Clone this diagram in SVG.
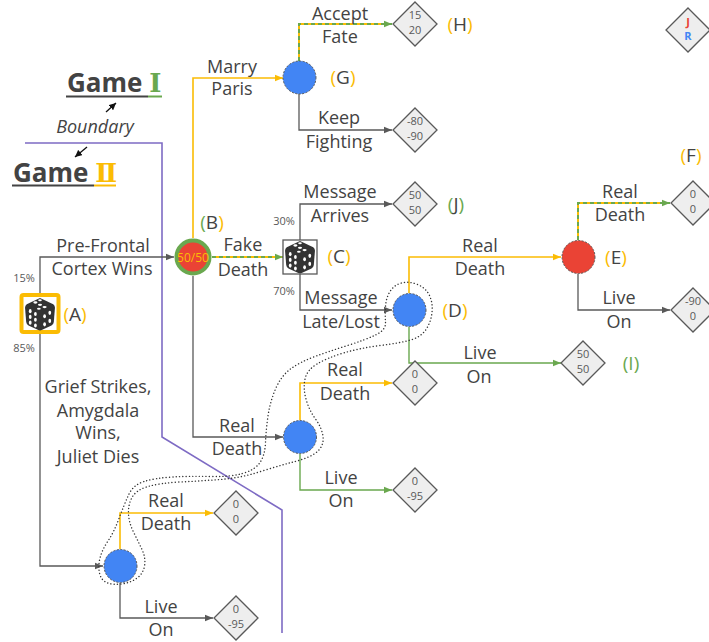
<svg xmlns="http://www.w3.org/2000/svg" width="709" height="642" viewBox="0 0 709 642">
<style>
.t{font-family:"Open Sans","Liberation Sans",sans-serif;font-size:18px;fill:#434343;text-anchor:middle}
.lb{font-family:"Open Sans","Liberation Sans",sans-serif;font-size:19px;fill:#434343;text-anchor:middle}
.pc{font-family:"Open Sans","Liberation Sans",sans-serif;font-size:11px;fill:#595959;text-anchor:middle}
.dt{font-family:"Open Sans","Liberation Sans",sans-serif;font-size:11px;fill:#595959;text-anchor:middle}
.g{stroke:#595959;stroke-width:1.3;fill:none}
.y{stroke:#fbbc04;stroke-width:1.6;fill:none}
.gr{stroke:#6aa84f;stroke-width:1.4;fill:none}
.yb{stroke:#fbbc04;stroke-width:2;fill:none}
.gd{stroke:#6aa84f;stroke-width:2;fill:none;stroke-dasharray:4 3}
.dia{fill:#eeeeee;stroke:#595959;stroke-width:1.3}
.nb{fill:#4285f4;stroke:#595959;stroke-width:1;stroke-dasharray:2 1.5}
.nr{fill:#ea4335;stroke:#595959;stroke-width:1;stroke-dasharray:2 1.5}
.Y{fill:#fbbc04}
.G{fill:#6aa84f}
</style>
<defs>
<marker id="ag" viewBox="0 0 10 10" refX="10" refY="5" markerWidth="8" markerHeight="8" markerUnits="userSpaceOnUse" orient="auto"><path d="M0,1 L10,5 L0,9 z" fill="#595959"/></marker>
<marker id="ay" viewBox="0 0 10 10" refX="10" refY="5" markerWidth="8" markerHeight="8" markerUnits="userSpaceOnUse" orient="auto"><path d="M0,1 L10,5 L0,9 z" fill="#fbbc04"/></marker>
<marker id="agr" viewBox="0 0 10 10" refX="10" refY="5" markerWidth="8" markerHeight="8" markerUnits="userSpaceOnUse" orient="auto"><path d="M0,1 L10,5 L0,9 z" fill="#6aa84f"/></marker>
<marker id="ak" viewBox="0 0 10 10" refX="10" refY="5" markerWidth="7" markerHeight="7" markerUnits="userSpaceOnUse" orient="auto"><path d="M0,0 L10,5 L0,10 z" fill="#111"/></marker>
<g id="dice">
<g transform="scale(1.15)">
<path d="M0,-14 L11.5,-8.5 Q13,-7.5 13,-5.5 L12,7 Q11.8,9 10,10 L1.5,14 Q0,14.7 -1.5,14 L-10,10 Q-11.8,9 -12,7 L-13,-5.5 Q-13,-7.5 -11.5,-8.5 Z" fill="#333"/>
<g fill="#fff">
<ellipse cx="-4" cy="-10" rx="1.8" ry="1"/><ellipse cx="0" cy="-8" rx="1.8" ry="1"/><ellipse cx="4" cy="-6" rx="1.8" ry="1"/><ellipse cx="0" cy="-12" rx="1.6" ry="0.9"/><ellipse cx="-1" cy="-4.5" rx="1.6" ry="0.9"/>
<ellipse cx="-8.5" cy="-2.5" rx="1.2" ry="1.8"/><ellipse cx="-4" cy="0" rx="1.2" ry="1.8"/><ellipse cx="-8.5" cy="2.5" rx="1.2" ry="1.8"/><ellipse cx="-4" cy="5" rx="1.2" ry="1.8"/><ellipse cx="-8.5" cy="7.5" rx="1.2" ry="1.8"/><ellipse cx="-4" cy="10" rx="1.2" ry="1.8"/>
<ellipse cx="4" cy="2" rx="1.2" ry="1.8"/><ellipse cx="8.5" cy="-1" rx="1.2" ry="1.8"/><ellipse cx="4" cy="9" rx="1.2" ry="1.8"/><ellipse cx="8.5" cy="6" rx="1.2" ry="1.8"/>
</g>
</g>
</g>
</defs>
<rect width="709" height="642" fill="#fff"/>

<g id="boundary">
<path d="M25,143 H162 V437 L282,510 V633" fill="none" stroke="#7e6bc4" stroke-width="1.6"/>
<text x="95" y="133" class="t" font-style="italic">Boundary</text>
<line x1="106" y1="112" x2="116" y2="103" stroke="#111" stroke-width="1.3" marker-end="url(#ak)"/>
<line x1="87" y1="147" x2="75" y2="157" stroke="#111" stroke-width="1.3" marker-end="url(#ak)"/>
</g>

<g id="titles">
<text x="67" y="92" font-family="'Open Sans','Liberation Sans',sans-serif" font-size="26" font-weight="bold" fill="#434343">Game <tspan fill="#6aa84f" font-family="'DejaVu Serif',serif">Ⅰ</tspan></text>
<line x1="66" y1="96.5" x2="148" y2="96.5" stroke="#434343" stroke-width="2"/>
<line x1="148" y1="96.5" x2="162" y2="96.5" stroke="#6aa84f" stroke-width="2"/>
<text x="13" y="182" font-family="'Open Sans','Liberation Sans',sans-serif" font-size="26" font-weight="bold" fill="#434343">Game <tspan fill="#fbbc04" font-family="'DejaVu Serif',serif">Ⅱ</tspan></text>
<line x1="12" y1="185.5" x2="94" y2="185.5" stroke="#434343" stroke-width="2"/>
<line x1="94" y1="185.5" x2="116" y2="185.5" stroke="#fbbc04" stroke-width="2"/>
</g>

<g id="connectors">
<path class="g" d="M40,294 V257 H174" marker-end="url(#ag)"/>
<path class="g" d="M40,333 V566 H103" marker-end="url(#ag)"/>
<path class="y" d="M193,238 V78 H283" marker-end="url(#ay)"/>
<path class="yb" d="M299,61 V24 H392"/>
<path class="gd" d="M299,61 V24 H392" marker-end="url(#agr)"/>
<path class="g" d="M299,94 V130 H392" marker-end="url(#ag)"/>
<path class="yb" d="M212,257 H283"/>
<path class="gd" d="M212,257 H283" marker-end="url(#agr)"/>
<path class="g" d="M300,240 V204 H392" marker-end="url(#ag)"/>
<path class="g" d="M300,274 V310 H392" marker-end="url(#ag)"/>
<path class="g" d="M193,276 V437 H283" marker-end="url(#ag)"/>
<path class="y" d="M409,293 V257 H561" marker-end="url(#ay)"/>
<path class="yb" d="M578,240 V203 H670"/>
<path class="gd" d="M578,240 V203 H670" marker-end="url(#agr)"/>
<path class="g" d="M578,274 V310 H670" marker-end="url(#ag)"/>
<path class="gr" d="M409,327 V363 H561" marker-end="url(#agr)"/>
<path class="y" d="M300,420 V383 H392" marker-end="url(#ay)"/>
<path class="gr" d="M300,454 V490 H392" marker-end="url(#agr)"/>
<path class="y" d="M120,549 V513 H213" marker-end="url(#ay)"/>
<path class="g" d="M120,583 V618 H213" marker-end="url(#ag)"/>
<path d="M385.5,322.5 Q386,330 375.5,335 Q365,340 347.5,345.5 Q330,351 315,356.5 Q300,362 290.5,369 Q281,376 275.5,389 Q270,402 268,416 Q266,430 265.5,442.5 Q265,455 260,462.5 Q255,470 242.5,473.5 Q230,477 210,476.5 Q190,476 172.5,477 Q155,478 144,481.5 Q133,485 128.5,495 Q124,505 119,518.5 Q114,532 108,541 Q102,550 100,558 Q98,566 99.5,573 Q101,580 106.5,582.5 Q112,585 121,584 Q130,583 136.5,578.5 Q143,574 144.5,566 Q146,558 142,549.5 Q138,541 133.5,532 Q129,523 128.5,514 Q128,505 132,497.5 Q136,490 148,486.5 Q160,483 180,482 Q200,481 220,479.5 Q240,478 259,472 Q278,466 295,461.5 Q312,457 318,451 Q324,445 323,436.5 Q322,428 315.5,419 Q309,410 306,399 Q303,388 305,379 Q307,370 317,364 Q327,358 343.5,353 Q360,348 380,345.5 Q400,343 410.5,340 Q421,337 426,329.5 Q431,322 432,312.5 Q433,303 429.5,295.5 Q426,288 417.5,284.5 Q409,281 401.5,283 Q394,285 390,291.5 Q386,298 385.5,306.5 Q385,315 385.5,322.5 Z" fill="none" stroke="#333" stroke-width="1.4" stroke-dasharray="0.1 3.2" stroke-linecap="round"/>
</g>

<g id="edge-labels">
<text class="t" x="232" y="73">Marry</text><text class="t" x="232" y="95">Paris</text>
<text class="t" x="340" y="20">Accept</text><text class="t" x="340" y="43">Fate</text>
<text class="t" x="339" y="124">Keep</text><text class="t" x="339" y="148">Fighting</text>
<text class="t" x="340" y="198">Message</text><text class="t" x="340" y="222">Arrives</text>
<text class="t" x="341" y="304">Message</text><text class="t" x="341" y="328">Late/Lost</text>
<text class="t" x="103" y="252">Pre-Frontal</text><text class="t" x="102" y="275">Cortex Wins</text>
<text class="t" x="243" y="251">Fake</text><text class="t" x="243" y="276">Death</text>
<text class="t" x="480" y="252">Real</text><text class="t" x="480" y="275">Death</text>
<text class="t" x="620" y="198">Real</text><text class="t" x="620" y="221">Death</text>
<text class="t" x="619" y="304">Live</text><text class="t" x="619" y="328">On</text>
<text class="t" x="480" y="359">Live</text><text class="t" x="479" y="383">On</text>
<text class="t" x="345" y="376">Real</text><text class="t" x="345" y="400">Death</text>
<text class="t" x="237" y="432">Real</text><text class="t" x="237" y="455">Death</text>
<text class="t" x="341" y="484">Live</text><text class="t" x="341" y="507">On</text>
<text class="t" x="98" y="393">Grief Strikes,</text><text class="t" x="98" y="417">Amygdala</text><text class="t" x="98" y="439">Wins,</text><text class="t" x="98" y="463">Juliet Dies</text>
<text class="t" x="166" y="507">Real</text><text class="t" x="166" y="530">Death</text>
<text class="t" x="161" y="613">Live</text><text class="t" x="161" y="636">On</text>
<text class="pc" x="24" y="282">15%</text><text class="pc" x="24" y="352">85%</text>
<text class="pc" x="284" y="225">30%</text><text class="pc" x="284" y="295">70%</text>
</g>

<g id="node-A">
<rect x="21.5" y="295" width="37" height="37" rx="2" fill="#fff" stroke="#fbbc04" stroke-width="4"/>
<use href="#dice" x="40" y="314"/>
<text class="lb" x="75" y="321"><tspan class="Y">(</tspan>A<tspan class="Y">)</tspan></text>
</g>
<g id="node-B">
<circle cx="193" cy="257" r="16.5" fill="#ea4335" stroke="#6aa84f" stroke-width="4"/>
<text x="193" y="261.5" font-family="'Open Sans','Liberation Sans',sans-serif" font-size="12" fill="#fbbc04" text-anchor="middle">50/50</text>
<text class="lb" x="212" y="229"><tspan class="G">(</tspan>B<tspan class="Y">)</tspan></text>
</g>
<g id="node-C">
<rect x="283" y="240" width="34" height="34" fill="#fff" stroke="#595959" stroke-width="1.3"/>
<use href="#dice" x="300" y="257"/>
<text class="lb" x="339" y="263"><tspan class="Y">(</tspan>C<tspan class="Y">)</tspan></text>
</g>
<g id="node-G">
<circle class="nb" cx="299.5" cy="77.5" r="16.5"/>
<text class="lb" x="343" y="84"><tspan class="Y">(</tspan>G<tspan class="Y">)</tspan></text>
</g>
<g id="node-D">
<circle class="nb" cx="409.5" cy="310" r="16.5"/>
<text class="lb" x="455" y="317"><tspan class="Y">(</tspan>D<tspan class="Y">)</tspan></text>
</g>
<g id="node-E">
<circle class="nr" cx="578.5" cy="257" r="16.5"/>
<text class="lb" x="616" y="264"><tspan class="Y">(</tspan>E<tspan class="Y">)</tspan></text>
</g>
<g id="node-D2">
<circle class="nb" cx="300" cy="437" r="16.5"/>
</g>
<g id="node-K">
<circle class="nb" cx="120.5" cy="566" r="16.5"/>
</g>

<g id="payoff-H">
<polygon class="dia" points="415,2 437,24 415,46 393,24"/>
<text class="dt" x="415" y="19">15</text><text class="dt" x="415" y="34">20</text>
<text class="lb" x="460" y="31"><tspan class="Y">(</tspan>H<tspan class="Y">)</tspan></text>
</g>
<g id="payoff-keep">
<polygon class="dia" points="415,108 437,130 415,152 393,130"/>
<text class="dt" x="415" y="125">-80</text><text class="dt" x="415" y="140">-90</text>
</g>
<g id="payoff-J">
<polygon class="dia" points="415,182 437,204 415,226 393,204"/>
<text class="dt" x="415" y="199">50</text><text class="dt" x="415" y="214">50</text>
<text class="lb" x="456" y="211"><tspan class="G">(</tspan>J<tspan class="G">)</tspan></text>
</g>
<g id="payoff-F">
<polygon class="dia" points="693,181 715,203 693,225 671,203"/>
<text class="dt" x="693" y="198">0</text><text class="dt" x="693" y="213">0</text>
<text class="lb" x="691" y="162"><tspan class="Y">(</tspan>F<tspan class="Y">)</tspan></text>
</g>
<g id="payoff-E-live">
<polygon class="dia" points="693,288 715,310 693,332 671,310"/>
<text class="dt" x="693" y="305">-90</text><text class="dt" x="693" y="320">0</text>
</g>
<g id="payoff-I">
<polygon class="dia" points="583,341 605,363 583,385 561,363"/>
<text class="dt" x="583" y="358">50</text><text class="dt" x="583" y="373">50</text>
<text class="lb G" x="631" y="370">(I)</text>
</g>
<g id="payoff-D2-real">
<polygon class="dia" points="415,361 437,383 415,405 393,383"/>
<text class="dt" x="415" y="378">0</text><text class="dt" x="415" y="393">0</text>
</g>
<g id="payoff-D2-live">
<polygon class="dia" points="415,468 437,490 415,512 393,490"/>
<text class="dt" x="415" y="485">0</text><text class="dt" x="415" y="500">-95</text>
</g>
<g id="payoff-K-real">
<polygon class="dia" points="236,491 258,513 236,535 214,513"/>
<text class="dt" x="236" y="508">0</text><text class="dt" x="236" y="523">0</text>
</g>
<g id="payoff-K-live">
<polygon class="dia" points="236,596 258,618 236,640 214,618"/>
<text class="dt" x="236" y="613">0</text><text class="dt" x="236" y="628">-95</text>
</g>
<g id="legend">
<polygon class="dia" points="688,8 710,30 688,52 666,30"/>
<text x="688" y="26" font-family="'Open Sans','Liberation Sans',sans-serif" font-size="11" font-weight="bold" fill="#ea4335" text-anchor="middle">J</text>
<text x="688" y="40" font-family="'Open Sans','Liberation Sans',sans-serif" font-size="11" font-weight="bold" fill="#4285f4" text-anchor="middle">R</text>
</g>
</svg>
